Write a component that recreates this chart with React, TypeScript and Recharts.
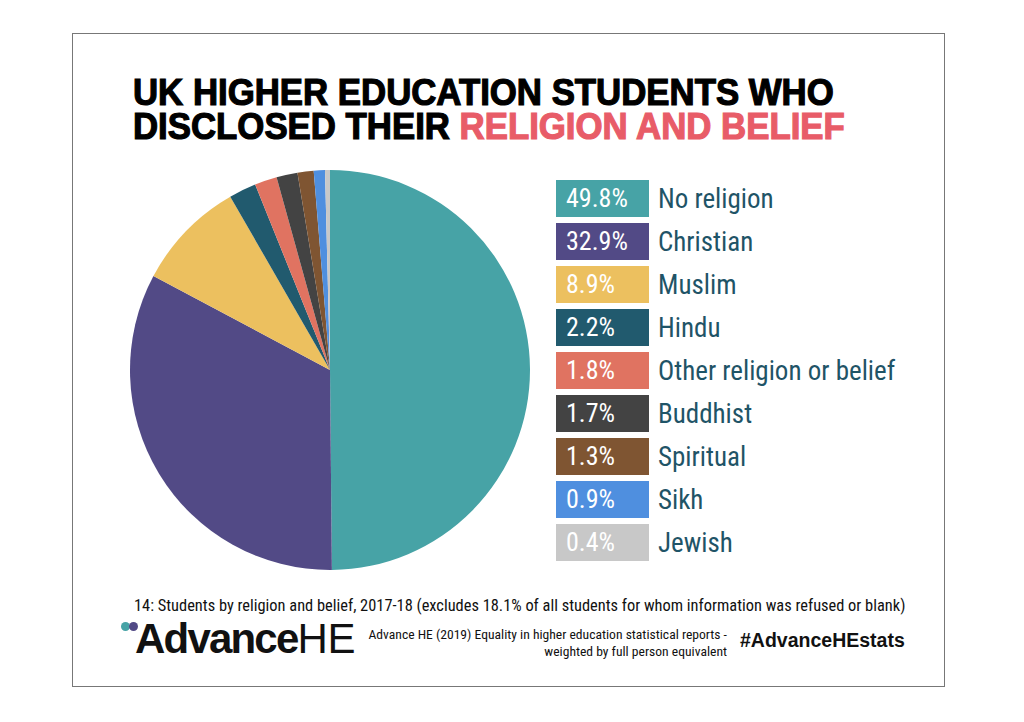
import { PieChart, Pie, Cell, Legend } from 'recharts'

const categories = ['No religion', 'Christian', 'Muslim', 'Hindu', 'Other religion or belief', 'Buddhist', 'Spiritual', 'Sikh', 'Jewish']
const shares = [49.8, 32.9, 8.9, 2.2, 1.8, 1.7, 1.3, 0.9, 0.4]
const colors = ['#47a3a6', '#524a86', '#ecc05f', '#215a6e', '#e07361', '#434343', '#7f5532', '#4f8fdf', '#c8c8c8']

const data = categories.map((name, i) => ({ name, value: shares[i] }))

const narrow = '"Liberation Sans Narrow", "Arial Narrow", "Roboto Condensed", Roboto, sans-serif'

// legend keeps the source order (recharts would sort it by name)
function LegendBoxes() {
  return (
    <div>
      {data.map((d, i) => (
        <div key={d.name} style={{ display: 'flex', alignItems: 'center', height: 43 }}>
          <div
            style={{
              width: 93,
              height: 37,
              background: colors[i],
              color: '#fff',
              fontFamily: narrow,
              fontSize: 26,
              lineHeight: '37px',
              paddingLeft: 10,
              boxSizing: 'border-box',
            }}
          >
            {d.value}%
          </div>
          <div style={{ marginLeft: 9, color: '#1f5467', fontFamily: narrow, fontSize: 27 }}>{d.name}</div>
        </div>
      ))}
    </div>
  )
}

export default function App() {
  return (
    <div style={{ position: 'absolute', left: 0, top: 0, width: 1024, height: 722, background: '#fff', fontFamily: 'Liberation Sans, Arial, sans-serif' }}>
      <div style={{ position: 'absolute', left: 72, top: 33, width: 873, height: 654, border: '1.5px solid #777', boxSizing: 'border-box' }} />
      <div
        style={{
          position: 'absolute',
          left: 133,
          top: 76,
          fontFamily: 'Liberation Sans, Arial, sans-serif',
          fontWeight: 700,
          fontSize: 37,
          lineHeight: '34px',
          color: '#000',
          whiteSpace: 'nowrap',
          transform: 'scaleX(0.94)',
          transformOrigin: 'left top',
          WebkitTextStroke: '1.2px #000',
        }}
      >
        <div>UK HIGHER EDUCATION STUDENTS WHO</div>
        <div>
          DISCLOSED THEIR <span style={{ color: '#e85c68', WebkitTextStroke: '1.2px #e85c68' }}>RELIGION AND BELIEF</span>
        </div>
      </div>
      <PieChart width={1024} height={722} margin={{ top: 0, right: 0, bottom: 0, left: 0 }} style={{ position: 'absolute', left: 0, top: 0 }}>
        <Pie
          data={data}
          dataKey="value"
          nameKey="name"
          cx={330}
          cy={370}
          outerRadius={200}
          startAngle={90}
          endAngle={-270}
          stroke="none"
          isAnimationActive={false}
        >
          {data.map((d, i) => (
            <Cell key={d.name} fill={colors[i]} />
          ))}
        </Pie>
        <Legend
          layout="vertical"
          content={<LegendBoxes />}
          wrapperStyle={{ position: 'absolute', left: 556, top: 177, width: 360 }}
        />
      </PieChart>
      <div style={{ position: 'absolute', left: 134, top: 596, fontFamily: narrow, fontSize: 16.4, color: '#111', whiteSpace: 'nowrap' }}>
        14: Students by religion and belief, 2017-18 (excludes 18.1% of all students for whom information was refused or blank)
      </div>
      <div style={{ position: 'absolute', left: 121, top: 622, width: 9, height: 9, borderRadius: 5, background: '#47a3a6' }} />
      <div style={{ position: 'absolute', left: 129, top: 622, width: 9, height: 9, borderRadius: 5, background: '#524a86' }} />
      <div style={{ position: 'absolute', left: 135, top: 615, fontFamily: 'Liberation Sans, Arial, sans-serif', fontWeight: 700, fontSize: 42, letterSpacing: -1.8, color: '#111', whiteSpace: 'nowrap' }}>
        Advance<span style={{ fontWeight: 400, letterSpacing: -0.3 }}>HE</span>
      </div>
      <div style={{ position: 'absolute', left: 345, top: 626, width: 382, textAlign: 'right', fontFamily: narrow, fontSize: 13.6, lineHeight: '17px', color: '#111' }}>
        Advance HE (2019) Equality in higher education statistical reports -
        <br />
        weighted by full person equivalent
      </div>
      <div style={{ position: 'absolute', left: 740, top: 629, fontFamily: 'Liberation Sans, Arial, sans-serif', fontWeight: 700, fontSize: 19.5, color: '#111', whiteSpace: 'nowrap' }}>
        #AdvanceHEstats
      </div>
    </div>
  )
}
